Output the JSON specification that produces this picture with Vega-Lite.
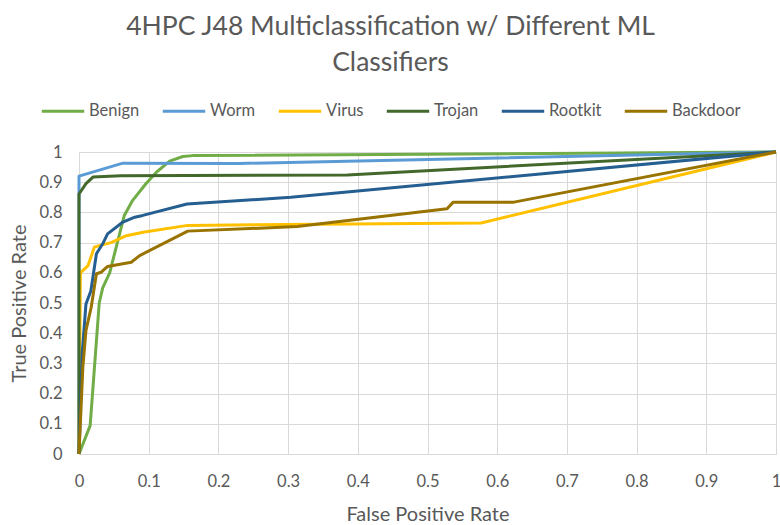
{
  "$schema": "https://vega.github.io/schema/vega-lite/v6.json",
  "autosize": {"type": "none"},
  "width": 697,
  "height": 302,
  "padding": {"left": 79, "top": 152, "right": 4, "bottom": 71},
  "background": "white",
  "title": {
    "text": ["4HPC J48 Multiclassification w/ Different ML", "Classifiers"],
    "font": "Lato",
    "fontSize": 26.5,
    "fontWeight": "normal",
    "color": "#595959",
    "anchor": "middle",
    "dx": -37,
    "lineHeight": 36,
    "offset": 12
  },
  "config": {
    "view": {"stroke": null},
    "axis": {
      "labelFont": "Lato",
      "labelFontSize": 16.5,
      "labelColor": "#595959",
      "titleFont": "Lato",
      "titleFontSize": 20,
      "titleFontWeight": "normal",
      "titleColor": "#595959",
      "gridColor": "#d9d9d9",
      "gridWidth": 1,
      "ticks": false
    },
    "legend": {
      "labelFont": "Lato",
      "labelFontSize": 16.5,
      "labelColor": "#595959"
    }
  },
  "data": {
    "values": [
      {"c": "Benign", "i": 0, "x": 0, "y": 0},
      {"c": "Benign", "i": 1, "x": 0.016, "y": 0.094},
      {"c": "Benign", "i": 2, "x": 0.029, "y": 0.5},
      {"c": "Benign", "i": 3, "x": 0.034, "y": 0.55},
      {"c": "Benign", "i": 4, "x": 0.044, "y": 0.6},
      {"c": "Benign", "i": 5, "x": 0.065, "y": 0.79},
      {"c": "Benign", "i": 6, "x": 0.077, "y": 0.84},
      {"c": "Benign", "i": 7, "x": 0.096, "y": 0.895},
      {"c": "Benign", "i": 8, "x": 0.111, "y": 0.933},
      {"c": "Benign", "i": 9, "x": 0.13, "y": 0.97},
      {"c": "Benign", "i": 10, "x": 0.149, "y": 0.985},
      {"c": "Benign", "i": 11, "x": 0.163, "y": 0.988},
      {"c": "Benign", "i": 12, "x": 1, "y": 1},
      {"c": "Worm", "i": 0, "x": 0, "y": 0},
      {"c": "Worm", "i": 1, "x": 0, "y": 0.92},
      {"c": "Worm", "i": 2, "x": 0.063, "y": 0.963},
      {"c": "Worm", "i": 3, "x": 0.23, "y": 0.962},
      {"c": "Worm", "i": 4, "x": 1, "y": 1},
      {"c": "Virus", "i": 0, "x": 0, "y": 0},
      {"c": "Virus", "i": 1, "x": 0.002, "y": 0.6},
      {"c": "Virus", "i": 2, "x": 0.013, "y": 0.624},
      {"c": "Virus", "i": 3, "x": 0.022, "y": 0.685},
      {"c": "Virus", "i": 4, "x": 0.029, "y": 0.69},
      {"c": "Virus", "i": 5, "x": 0.046, "y": 0.7},
      {"c": "Virus", "i": 6, "x": 0.068, "y": 0.723},
      {"c": "Virus", "i": 7, "x": 0.092, "y": 0.734},
      {"c": "Virus", "i": 8, "x": 0.156, "y": 0.757},
      {"c": "Virus", "i": 9, "x": 0.577, "y": 0.765},
      {"c": "Virus", "i": 10, "x": 1, "y": 1},
      {"c": "Trojan", "i": 0, "x": 0, "y": 0},
      {"c": "Trojan", "i": 1, "x": 0, "y": 0.861},
      {"c": "Trojan", "i": 2, "x": 0.01, "y": 0.895},
      {"c": "Trojan", "i": 3, "x": 0.02, "y": 0.917},
      {"c": "Trojan", "i": 4, "x": 0.06, "y": 0.921},
      {"c": "Trojan", "i": 5, "x": 0.385, "y": 0.924},
      {"c": "Trojan", "i": 6, "x": 1, "y": 1},
      {"c": "Rootkit", "i": 0, "x": 0, "y": 0},
      {"c": "Rootkit", "i": 1, "x": 0.0045, "y": 0.33},
      {"c": "Rootkit", "i": 2, "x": 0.01, "y": 0.497},
      {"c": "Rootkit", "i": 3, "x": 0.017, "y": 0.54},
      {"c": "Rootkit", "i": 4, "x": 0.025, "y": 0.663},
      {"c": "Rootkit", "i": 5, "x": 0.034, "y": 0.696},
      {"c": "Rootkit", "i": 6, "x": 0.041, "y": 0.729},
      {"c": "Rootkit", "i": 7, "x": 0.063, "y": 0.768},
      {"c": "Rootkit", "i": 8, "x": 0.08, "y": 0.784},
      {"c": "Rootkit", "i": 9, "x": 0.0915, "y": 0.79},
      {"c": "Rootkit", "i": 10, "x": 0.155, "y": 0.828},
      {"c": "Rootkit", "i": 11, "x": 0.304, "y": 0.85},
      {"c": "Rootkit", "i": 12, "x": 1, "y": 1},
      {"c": "Backdoor", "i": 0, "x": 0, "y": 0},
      {"c": "Backdoor", "i": 1, "x": 0.0055, "y": 0.287},
      {"c": "Backdoor", "i": 2, "x": 0.01, "y": 0.409},
      {"c": "Backdoor", "i": 3, "x": 0.0175, "y": 0.486},
      {"c": "Backdoor", "i": 4, "x": 0.025, "y": 0.597},
      {"c": "Backdoor", "i": 5, "x": 0.032, "y": 0.602},
      {"c": "Backdoor", "i": 6, "x": 0.041, "y": 0.621},
      {"c": "Backdoor", "i": 7, "x": 0.075, "y": 0.635},
      {"c": "Backdoor", "i": 8, "x": 0.087, "y": 0.657},
      {"c": "Backdoor", "i": 9, "x": 0.156, "y": 0.738},
      {"c": "Backdoor", "i": 10, "x": 0.313, "y": 0.753},
      {"c": "Backdoor", "i": 11, "x": 0.528, "y": 0.812},
      {"c": "Backdoor", "i": 12, "x": 0.537, "y": 0.834},
      {"c": "Backdoor", "i": 13, "x": 0.624, "y": 0.834},
      {"c": "Backdoor", "i": 14, "x": 1, "y": 1}
    ]
  },
  "mark": {"type": "line", "strokeWidth": 3, "strokeJoin": "round"},
  "encoding": {
    "x": {
      "field": "x",
      "type": "quantitative",
      "scale": {"domain": [0, 1], "nice": false},
      "axis": {
        "title": "False Positive Rate",
        "values": [0, 0.1, 0.2, 0.3, 0.4, 0.5, 0.6, 0.7, 0.8, 0.9, 1],
        "format": "~g",
        "labelPadding": 19,
        "titlePadding": 15,
        "domain": true,
        "domainColor": "#d9d9d9",
        "labelFlush": false
      }
    },
    "y": {
      "field": "y",
      "type": "quantitative",
      "scale": {"domain": [0, 1], "nice": false},
      "axis": {
        "title": "True Positive Rate",
        "values": [0, 0.1, 0.2, 0.3, 0.4, 0.5, 0.6, 0.7, 0.8, 0.9, 1],
        "format": "~g",
        "labelPadding": 17,
        "titlePadding": 9,
        "domain": false,
        "labelFlush": false
      }
    },
    "color": {
      "field": "c",
      "type": "nominal",
      "scale": {
        "domain": ["Benign", "Worm", "Virus", "Trojan", "Rootkit", "Backdoor"],
        "range": ["#70AD47", "#5B9BD5", "#FFC000", "#43682B", "#255E91", "#997300"]
      },
      "legend": {
        "title": null,
        "orient": "none",
        "direction": "horizontal",
        "legendX": -39,
        "legendY": -64,
        "symbolType": "stroke",
        "symbolSize": 1800,
        "symbolStrokeWidth": 3,
        "labelOffset": 3,
        "columnPadding": 16,
        "padding": 0
      }
    },
    "order": {"field": "i", "type": "quantitative"}
  }
}
